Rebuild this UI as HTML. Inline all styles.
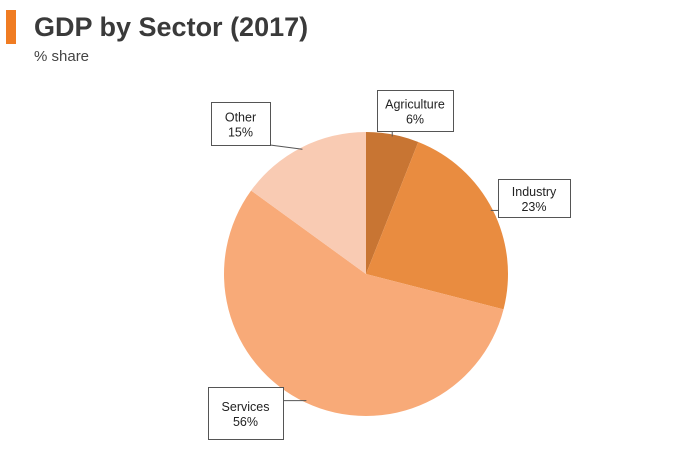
<!DOCTYPE html>
<html><head><meta charset="utf-8"><style>
body{margin:0;width:700px;height:450px;background:#fff;font-family:"Liberation Sans",sans-serif;overflow:hidden;position:relative}
#bar{position:absolute;left:6px;top:10px;width:10px;height:34px;background:#f07c22}
#title{position:absolute;left:34px;top:12px;font-size:27px;font-weight:bold;color:#3a3a3a}
#sub{position:absolute;left:34px;top:48px;font-size:15px;color:#444}
</style></head><body>
<div id="bar"></div>
<div id="title">GDP by Sector (2017)</div>
<div id="sub">% share</div>
<svg id="chart" width="700" height="450" style="position:absolute;left:0;top:0"></svg>
<script>
const categories=["Agriculture","Industry","Services","Other"];
const values=[6,23,56,15];
const colors=["#c87533","#e98c40","#f8aa78","#f9cbb3"];
const boxes=[[377,90,76,41],[498,179,72,38],[208,387,75,52],[211,102,59,43]];
const NS="http://www.w3.org/2000/svg";
const svg=document.getElementById("chart");
const cx=366,cy=274,r=142;
const total=values.reduce((a,b)=>a+b,0);
function pt(a,rr){return [cx+rr*Math.sin(a),cy-rr*Math.cos(a)];}
let a0=0;
values.forEach((v,i)=>{
  const a1=a0+v/total*2*Math.PI;
  const p0=pt(a0,r),p1=pt(a1,r);
  const large=(a1-a0)>Math.PI?1:0;
  const path=document.createElementNS(NS,"path");
  path.setAttribute("d",`M${cx},${cy}L${p0[0]},${p0[1]}A${r},${r} 0 ${large} 1 ${p1[0]},${p1[1]}Z`);
  path.setAttribute("fill",colors[i]);
  
  
  svg.appendChild(path);
  a0=a1;
});
a0=0;
values.forEach((v,i)=>{
  const a1=a0+v/total*2*Math.PI;
  const mid=(a0+a1)/2;
  const e=pt(mid,r-2);
  const b=boxes[i];
  const bx=Math.max(b[0],Math.min(b[0]+b[2],e[0])),by=Math.max(b[1],Math.min(b[1]+b[3],e[1]));
  const ln=document.createElementNS(NS,"line");
  ln.setAttribute("x1",bx);ln.setAttribute("y1",by);ln.setAttribute("x2",e[0]);ln.setAttribute("y2",e[1]);
  ln.setAttribute("stroke","#555");ln.setAttribute("stroke-width","1");
  
  
  svg.appendChild(ln);
  const g=document.createElementNS(NS,"g");
  
  
  const rc=document.createElementNS(NS,"rect");
  rc.setAttribute("x",b[0]+0.5);rc.setAttribute("y",b[1]+0.5);rc.setAttribute("width",b[2]);rc.setAttribute("height",b[3]);
  rc.setAttribute("fill","#fff");rc.setAttribute("stroke","#555");
  g.appendChild(rc);
  [categories[i],v+"%"].forEach((t,k)=>{
    const tx=document.createElementNS(NS,"text");
    tx.setAttribute("x",b[0]+b[2]/2);tx.setAttribute("y",b[1]+b[3]/2-2+k*15);
    tx.setAttribute("text-anchor","middle");tx.setAttribute("font-size","12.5");tx.setAttribute("fill","#222");
    tx.textContent=t;g.appendChild(tx);
  });
  svg.appendChild(g);
  a0=a1;
});
</script>
</body></html>
